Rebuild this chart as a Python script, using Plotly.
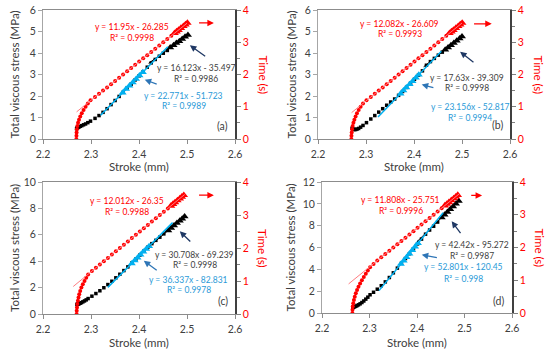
import plotly.graph_objects as go

# ---------------- data ----------------
time_pts = [0.0, 0.1, 0.2, 0.3, 0.4, 0.5, 0.6, 0.7, 0.8, 0.9, 1.0, 1.1, 1.2, 1.3, 1.4, 1.5,
            1.6, 1.7, 1.8, 1.9, 2.0, 2.1, 2.2, 2.3, 2.4, 2.5, 2.6, 2.7, 2.8, 2.9, 3.0, 3.1, 3.2]
tri_time = [3.28, 3.33, 3.38, 3.44, 3.50, 3.55, 3.60]

# panel (a)
stroke_a = [2.2695, 2.2697, 2.2700, 2.2706, 2.2716, 2.2730, 2.2750, 2.2776, 2.2808, 2.2845, 2.2887,
            2.2934, 2.2990, 2.3084, 2.3167, 2.3251, 2.3335, 2.3418, 2.3502, 2.3586, 2.3669, 2.3753,
            2.3837, 2.3921, 2.4004, 2.4088, 2.4172, 2.4255, 2.4339, 2.4423, 2.4506, 2.4590, 2.4674]
stress_a = [None, None, 0.48, 0.50, 0.52, 0.54, 0.56, 0.59, 0.62, 0.66, 0.70, 0.76, 0.83, 0.96, 1.09,
            1.24, 1.41, 1.60, 1.79, 1.98, 2.17, 2.36, 2.55, 2.75, 2.94, 3.13, 3.34, 3.54, 3.70, 3.85,
            3.99, 4.12, None]
red_tri_stroke_a = [2.4741, 2.4783, 2.4824, 2.4874, 2.4925, 2.4967, 2.5008]
blk_tri_stroke_a = [2.465, 2.472, 2.478, 2.484, 2.490, 2.496, 2.502]
blk_tri_stress_a = [4.25, 4.36, 4.46, 4.55, 4.65, 4.75, 4.84]
blu_tri_stroke_a = [2.366, 2.373, 2.380, 2.387, 2.394, 2.401, 2.408]
blu_tri_stress_a = [2.15, 2.32, 2.48, 2.63, 2.79, 2.95, 3.11]
fit_slope_a = [11.95, 16.123, 22.771]
fit_icpt_a = [-26.285, -35.497, -51.723]
fit_r2_a = ["0.9998", "0.9986", "0.9989"]
fit_from_a = [2.27, 2.42, 2.32]
fit_to_a = [2.50, 2.50, 2.46]

# panel (b)
stroke_b = [2.2695, 2.2697, 2.2702, 2.2710, 2.2722, 2.2738, 2.2758, 2.2783, 2.2812, 2.2847, 2.2888,
            2.2938, 2.3010, 2.3100, 2.3183, 2.3265, 2.3348, 2.3431, 2.3514, 2.3597, 2.3679, 2.3762,
            2.3845, 2.3928, 2.4010, 2.4093, 2.4176, 2.4259, 2.4342, 2.4424, 2.4507, 2.4590, 2.4673]
stress_b = [None, None, None, 0.50, 0.47, 0.45, 0.44, 0.44, 0.46, 0.49, 0.55, 0.63, 0.76, 0.93, 1.09,
            1.25, 1.41, 1.57, 1.72, 1.86, 2.03, 2.21, 2.40, 2.59, 2.78, 2.97, 3.17, 3.43, 3.60, 3.75,
            3.90, 4.04, None]
red_tri_stroke_b = [2.4739, 2.4780, 2.4822, 2.4872, 2.4921, 2.4963, 2.5004]
blk_tri_stroke_b = [2.465, 2.471, 2.477, 2.483, 2.489, 2.495, 2.500]
blk_tri_stress_b = [4.15, 4.26, 4.36, 4.47, 4.57, 4.68, 4.77]
blu_tri_stroke_b = [2.372, 2.378, 2.384, 2.391, 2.397, 2.404, 2.410]
blu_tri_stress_b = [2.11, 2.25, 2.39, 2.55, 2.69, 2.85, 2.99]
fit_slope_b = [12.082, 17.63, 23.156]
fit_icpt_b = [-26.609, -39.309, -52.817]
fit_r2_b = ["0.9993", "0.9998", "0.9994"]
fit_from_b = [2.27, 2.42, 2.325]
fit_to_b = [2.50, 2.50, 2.457]

# panel (c)
stroke_c = [2.2700, 2.2702, 2.2708, 2.2716, 2.2727, 2.2740, 2.2755, 2.2775, 2.2800, 2.2830, 2.2865,
            2.2900, 2.2940, 2.3019, 2.3102, 2.3185, 2.3268, 2.3352, 2.3435, 2.3518, 2.3601, 2.3685,
            2.3768, 2.3851, 2.3935, 2.4018, 2.4101, 2.4184, 2.4268, 2.4351, 2.4434, 2.4517, 2.4601]
stress_c = [None, None, 0.72, 0.74, 0.75, 0.77, 0.79, 0.82, 0.86, 0.92, 0.99, 1.07, 1.17, 1.35, 1.55,
            1.76, 1.99, 2.23, 2.48, 2.74, 3.01, 3.29, 3.57, 3.86, 4.16, 4.46, 4.76, 5.06, 5.33, 5.58,
            5.82, 6.07, None]
red_tri_stroke_c = [2.4667, 2.4709, 2.4750, 2.4800, 2.4850, 2.4892, 2.4933]
blk_tri_stroke_c = [2.461, 2.467, 2.473, 2.479, 2.485, 2.490, 2.495]
blk_tri_stress_c = [6.33, 6.52, 6.70, 6.89, 7.07, 7.22, 7.38]
blu_tri_stroke_c = [2.385, 2.391, 2.397, 2.403, 2.409, 2.415, 2.421]
blu_tri_stress_c = [3.83, 4.05, 4.27, 4.49, 4.71, 4.92, 5.14]
fit_slope_c = [12.012, 30.708, 36.337]
fit_icpt_c = [-26.35, -69.239, -82.831]
fit_r2_c = ["0.9988", "0.9998", "0.9978"]
fit_from_c = [2.263, 2.42, 2.335]
fit_to_c = [2.495, 2.495, 2.47]

# panel (d)
stroke_d = [2.2640, 2.2642, 2.2648, 2.2658, 2.2672, 2.2690, 2.2712, 2.2738, 2.2768, 2.2802, 2.2840,
            2.2880, 2.2922, 2.2965, 2.3012, 2.3085, 2.3164, 2.3248, 2.3333, 2.3418, 2.3502, 2.3587,
            2.3672, 2.3757, 2.3841, 2.3926, 2.4011, 2.4095, 2.4180, 2.4265, 2.4350, 2.4434, 2.4519]
stress_d = [None, None, 0.50, 0.52, 0.55, 0.58, 0.62, 0.68, 0.75, 0.84, 0.96, 1.10, 1.27, 1.45, 1.67,
            1.90, 2.18, 2.50, 2.85, 3.25, 3.68, 4.11, 4.55, 4.99, 5.43, 5.88, 6.33, 6.77, 7.22, 7.60,
            7.95, 8.33, None]
red_tri_stroke_d = [2.4587, 2.4629, 2.4671, 2.4722, 2.4773, 2.4816, 2.4858]
blk_tri_stroke_d = [2.452, 2.458, 2.464, 2.470, 2.476, 2.482, 2.488]
blk_tri_stress_d = [8.74, 9.00, 9.25, 9.51, 9.76, 10.01, 10.27]
blu_tri_stroke_d = [2.366, 2.372, 2.378, 2.384, 2.390, 2.396, 2.402]
blu_tri_stress_d = [4.48, 4.79, 5.11, 5.43, 5.74, 6.06, 6.38]
fit_slope_d = [11.808, 42.42, 52.801]
fit_icpt_d = [-25.751, -95.272, -120.45]
fit_r2_d = ["0.9996", "0.9987", "0.998"]
fit_from_d = [2.256, 2.40, 2.32]
fit_to_d = [2.49, 2.49, 2.455]

panel_labels = ["(a)", "(b)", "(c)", "(d)"]
stress_max = [6, 6, 10, 12]
stress_dtick = [1, 1, 2, 2]

# ---------------- style / layout ----------------
W, H = 550, 349
FONT = "Lato, Carlito, Calibri, 'Liberation Sans', sans-serif"
RED = "#FF0000"
PINK = "#FF7C80"
BLUE = "#00B0F0"
BLUE_TXT = "#2A9AD8"
NAVY = "#1F3864"
ARROW_BLUE = "#2E75B6"
DARK = "#404040"

def px(x):
    return x / W

def py(y):
    return 1 - y / H

# plot-area boxes in pixels: (left, right, top, bottom)
boxes = [(43, 235, 10, 139), (318, 510, 10, 139), (43, 235, 182, 314), (322, 512, 182, 313)]
ytitle_x = [14, 291, 14, 290]
time_title_x = [263, 538, 263, 539]
xtitle_y = [167, 167, 342, 342]

# annotation positions (data coords, primary axis): red, black, blue  (x, eq y, R2 y)
txt_pos = [
    [(2.385, 5.21, 4.68), (2.519, 3.29, 2.80), (2.493, 1.99, 1.52)],
    [(2.370, 5.36, 4.87), (2.511, 2.86, 2.37), (2.517, 1.49, 1.00)],
    [(2.374, 8.59, 7.73), (2.516, 4.49, 3.70), (2.504, 2.60, 1.80)],
    [(2.366, 10.38, 9.31), (2.515, 6.26, 5.22), (2.497, 4.18, 3.15)],
]
label_pos = [(2.574, 0.61), (2.574, 0.64), (2.574, 0.96), (2.572, 1.07)]
# arrows: (tail_x, tail_y, head_x, head_y)
red_arrow = [(2.522, 3.6, 2.556, 3.6), (2.522, 3.57, 2.562, 3.57), (2.522, 3.6, 2.556, 3.6), (2.511, 3.59, 2.537, 3.59)]
navy_arrow = [(2.541, 3.80, 2.506, 4.36), (2.527, 3.52, 2.496, 4.06), (2.510, 5.38, 2.485, 6.26), (2.494, 7.18, 2.473, 8.40)]
blue_arrow = [(2.440, 2.53, 2.412, 2.76), (2.4435, 2.37, 2.416, 2.53), (2.440, 3.23, 2.410, 4.04), (2.445, 5.04, 2.410, 5.34)]

panels = [
    dict(stroke=stroke_a, stress=stress_a, rts=red_tri_stroke_a, bts=blk_tri_stroke_a, btv=blk_tri_stress_a,
         uts=blu_tri_stroke_a, utv=blu_tri_stress_a, m=fit_slope_a, b=fit_icpt_a, r2=fit_r2_a, f0=fit_from_a, f1=fit_to_a),
    dict(stroke=stroke_b, stress=stress_b, rts=red_tri_stroke_b, bts=blk_tri_stroke_b, btv=blk_tri_stress_b,
         uts=blu_tri_stroke_b, utv=blu_tri_stress_b, m=fit_slope_b, b=fit_icpt_b, r2=fit_r2_b, f0=fit_from_b, f1=fit_to_b),
    dict(stroke=stroke_c, stress=stress_c, rts=red_tri_stroke_c, bts=blk_tri_stroke_c, btv=blk_tri_stress_c,
         uts=blu_tri_stroke_c, utv=blu_tri_stress_c, m=fit_slope_c, b=fit_icpt_c, r2=fit_r2_c, f0=fit_from_c, f1=fit_to_c),
    dict(stroke=stroke_d, stress=stress_d, rts=red_tri_stroke_d, bts=blk_tri_stroke_d, btv=blk_tri_stress_d,
         uts=blu_tri_stroke_d, utv=blu_tri_stress_d, m=fit_slope_d, b=fit_icpt_d, r2=fit_r2_d, f0=fit_from_d, f1=fit_to_d),
]

fig = go.Figure()
layout = dict(
    width=W, height=H, margin=dict(l=0, r=0, t=0, b=0, autoexpand=False),
    paper_bgcolor="white", plot_bgcolor="white", showlegend=False,
    font=dict(family=FONT, color=DARK, size=10),
)
annotations = []

for i, p in enumerate(panels):
    k = i + 1
    xname = "x" if k == 1 else f"x{k}"
    y1n = "y" if k == 1 else f"y{2 * k - 1}"
    y2n = f"y{2 * k}"
    l, r, t, bt = boxes[i]
    xkey = "xaxis" if k == 1 else f"xaxis{k}"
    y1key = "yaxis" if k == 1 else f"yaxis{2 * k - 1}"
    y2key = f"yaxis{2 * k}"

    layout[xkey] = dict(domain=[px(l), px(r)], anchor=y1n, range=[2.2, 2.6], dtick=0.1, tick0=2.2,
                        tickformat=".1f", showline=True, linecolor="#8C8C8C", linewidth=1, mirror=True,
                        ticks="outside", ticklen=4, tickcolor="#8C8C8C", showgrid=False, zeroline=False,
                        ticklabelstandoff=1,
                        automargin=False, tickfont=dict(size=10.5, color=DARK, family=FONT))
    layout[y1key] = dict(domain=[py(bt), py(t)], anchor=xname, range=[0, stress_max[i]], dtick=stress_dtick[i],
                         showline=True, linecolor="#A6A6A6", linewidth=1, ticks="outside", ticklen=4,
                         tickcolor="#A6A6A6", showgrid=False, zeroline=False, automargin=False,
                         tickfont=dict(size=10.5, color=DARK, family=FONT))
    layout[y2key] = dict(overlaying=y1n, anchor=xname, side="right", range=[0, 4], dtick=1,
                         showline=True, linecolor="#404040", linewidth=1.5, ticks="outside", ticklen=4,
                         tickcolor="#808080", showgrid=False, zeroline=False, automargin=False,
                         minor=dict(dtick=0.5, ticks="outside", ticklen=3, tickcolor="#808080"),
                         tickfont=dict(size=10.5, color=RED, family=FONT))

    # black stress dots
    fig.add_trace(go.Scatter(x=p["stroke"], y=p["stress"], mode="markers", xaxis=xname, yaxis=y1n,
                             marker=dict(symbol="square", size=3.5, color="black")))
    # black triangles
    fig.add_trace(go.Scatter(x=p["bts"], y=p["btv"], mode="markers", xaxis=xname, yaxis=y1n,
                             marker=dict(symbol="triangle-up", size=7, color="black")))
    # blue triangles
    fig.add_trace(go.Scatter(x=p["uts"], y=p["utv"], mode="markers", xaxis=xname, yaxis=y1n,
                             marker=dict(symbol="triangle-up", size=7, color=BLUE)))
    # fit lines: black and blue (primary)
    for j, col, wdt in [(1, "black", 1), (2, BLUE, 1.5)]:
        xs = [p["f0"][j], p["f1"][j]]
        ys = [p["m"][j] * x + p["b"][j] for x in xs]
        fig.add_trace(go.Scatter(x=xs, y=ys, mode="lines", xaxis=xname, yaxis=y1n,
                                 line=dict(color=col, width=wdt)))
    # red time dots and triangles (secondary)
    fig.add_trace(go.Scatter(x=p["stroke"], y=time_pts, mode="markers", xaxis=xname, yaxis=y2n,
                             marker=dict(symbol="circle", size=4, color=RED)))
    fig.add_trace(go.Scatter(x=p["rts"], y=tri_time, mode="markers", xaxis=xname, yaxis=y2n,
                             marker=dict(symbol="triangle-up", size=7.5, color=RED)))
    xs = [p["f0"][0], p["f1"][0]]
    ys = [p["m"][0] * x + p["b"][0] for x in xs]
    fig.add_trace(go.Scatter(x=xs, y=ys, mode="lines", xaxis=xname, yaxis=y2n,
                             line=dict(color=PINK, width=1)))

    # equation texts
    cols = [RED, DARK, BLUE_TXT]
    for j in range(3):
        cx, ey, ry = txt_pos[i][j]
        eq = f"y = {p['m'][j]:g}x - {abs(p['b'][j]):g}"
        annotations.append(dict(x=cx, y=ey, xref=xname, yref=y1n, text=eq, showarrow=False,
                                font=dict(size=8.5, color=cols[j], family=FONT), xanchor="center", yanchor="middle"))
        annotations.append(dict(x=cx, y=ry, xref=xname, yref=y1n, text=f"R² = {p['r2'][j]}", showarrow=False,
                                font=dict(size=8.5, color=cols[j], family=FONT), xanchor="center", yanchor="middle"))
    # panel label
    annotations.append(dict(x=label_pos[i][0], y=label_pos[i][1], xref=xname, yref=y1n, text=panel_labels[i],
                            showarrow=False, xanchor="center", yanchor="middle",
                            font=dict(size=10.5, color=DARK, family=FONT)))
    # arrows
    tx, ty, hx, hy = red_arrow[i]
    annotations.append(dict(x=hx, y=hy, ax=tx, ay=ty, xref=xname, yref=y2n, axref=xname, ayref=y2n,
                            text="", showarrow=True, arrowhead=2, arrowsize=1, arrowwidth=1.3, arrowcolor=RED))
    tx, ty, hx, hy = navy_arrow[i]
    annotations.append(dict(x=hx, y=hy, ax=tx, ay=ty, xref=xname, yref=y1n, axref=xname, ayref=y1n,
                            text="", showarrow=True, arrowhead=2, arrowsize=1, arrowwidth=1.3, arrowcolor=NAVY))
    tx, ty, hx, hy = blue_arrow[i]
    annotations.append(dict(x=hx, y=hy, ax=tx, ay=ty, xref=xname, yref=y1n, axref=xname, ayref=y1n,
                            text="", showarrow=True, arrowhead=2, arrowsize=1, arrowwidth=1.3, arrowcolor=ARROW_BLUE))

    # axis titles
    annotations.append(dict(x=px(ytitle_x[i]), y=py((t + bt) / 2), xref="paper", yref="paper",
                            xanchor="center", yanchor="middle",
                            text="Total viscous stress (MPa)", textangle=-90, showarrow=False,
                            font=dict(size=11.5, color=DARK, family=FONT)))
    annotations.append(dict(x=px(time_title_x[i]), y=py((t + bt) / 2), xref="paper", yref="paper",
                            xanchor="center", yanchor="middle",
                            text="Time (s)", textangle=90, showarrow=False,
                            font=dict(size=11.5, color=RED, family=FONT)))
    annotations.append(dict(x=px((l + r) / 2), y=py(xtitle_y[i]), xref="paper", yref="paper",
                            xanchor="center", yanchor="middle",
                            text="Stroke (mm)", showarrow=False,
                            font=dict(size=11.5, color=DARK, family=FONT)))

layout["annotations"] = annotations
fig.update_layout(**layout)
fig.write_html("out.html", config={"displayModeBar": False},
               post_script="document.body.style.margin='0';document.body.style.overflow='hidden';")
